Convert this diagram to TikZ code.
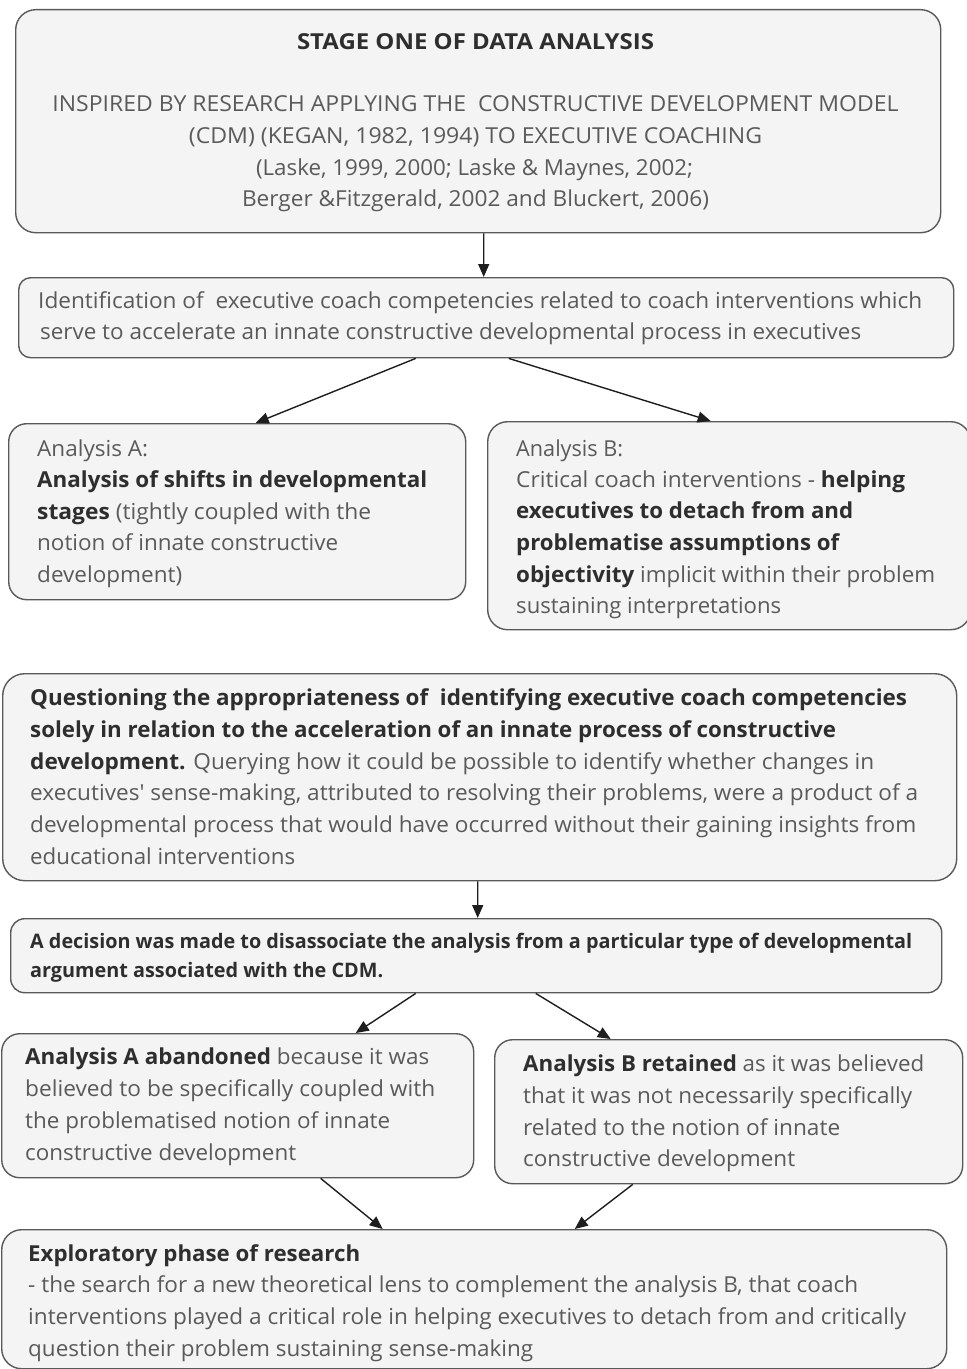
\documentclass[tikz,border=0pt]{standalone}
\usepackage{fontspec}
\setmainfont{Open Sans}
\newfontfamily\plainquote{Open Sans}[Ligatures=TeXOff]
\usepackage{graphicx}
\usetikzlibrary{arrows.meta}

\definecolor{boxline}{HTML}{595959}
\definecolor{boxfill}{HTML}{F4F4F4}
\definecolor{txtgray}{HTML}{5A5A5A}
\definecolor{txtdark}{HTML}{2E2E2E}
\definecolor{arrowcol}{HTML}{1E1E1E}

% set one line of text to a given width (in bp) by scaling it horizontally
\newlength\linelen
\newcommand\fitline[2]{\settowidth\linelen{#2}\pgfmathsetmacro\linefactor{#1*1.00375/\linelen}\scalebox{\linefactor}[1]{#2}}
\newcommand\bdtext[1]{{\bfseries\color{txtdark}#1}}
\newcommand\straightquote{{\plainquote '}}

\tikzset{
  box/.style={draw=boxline, line width=1.4bp, fill=boxfill, rounded corners=#1,
              anchor=north west, inner sep=0pt},
  box/.default=18bp,
  txt/.style={anchor=base west, inner sep=0pt, text=txtgray,
              font=\fontsize{22bp}{26bp}\selectfont},
  txtc/.style={txt, anchor=base},
  small/.style={font=\fontsize{20bp}{24bp}\selectfont},
  arr/.style={draw=arrowcol, line width=1.4bp, -{Triangle[length=13bp,width=11bp]}},
}

\begin{document}
\begin{tikzpicture}[x=1bp, y=-1bp]
\useasboundingbox (0,0) rectangle (966,1369);

% ---------- boxes ----------
\node[box=20bp, minimum width=925bp, minimum height=223bp] (stage)   at (15,9)    {};
\node[box=12bp, minimum width=935bp, minimum height=80bp]  (ident)   at (18,277)  {};
\node[box=18bp, minimum width=457bp, minimum height=176bp] (anA)     at (8,423)   {};
\node[box=20bp, minimum width=483bp, minimum height=208bp] (anB)     at (487,421) {};
\node[box=22bp, minimum width=954bp, minimum height=207bp] (quest)   at (2,673)   {};
\node[box=14bp, minimum width=931bp, minimum height=74bp]  (decide)  at (10,918)  {};
\node[box=18bp, minimum width=472bp, minimum height=144bp] (abandon) at (1,1033)  {};
\node[box=18bp, minimum width=468bp, minimum height=144bp] (retain)  at (494,1039){};
\node[box=20bp, minimum width=945bp, minimum height=139bp] (explore) at (1,1229)  {};

% ---------- stage one ----------
\node[txtc] (st1) at (475.5,50)  {\fitline{357}{\bdtext{STAGE ONE OF DATA ANALYSIS}}};
\node[txtc] (st2) at (475.5,112) {\fitline{846}{INSPIRED BY RESEARCH APPLYING THE\ \ CONSTRUCTIVE DEVELOPMENT MODEL}};
\node[txtc] (st3) at (475.5,144) {\fitline{573}{(CDM) (KEGAN, 1982, 1994) TO EXECUTIVE COACHING}};
\node[txtc] (st4) at (474.5,176) {\fitline{437}{(Laske, 1999, 2000; Laske \& Maynes, 2002;}};
\node[txtc] (st5) at (475.5,207) {\fitline{467}{Berger \&Fitzgerald, 2002 and Bluckert, 2006)}};

% ---------- identification ----------
\node[txt] (id1) at (38,308) {\fitline{884}{Identification of\ \ executive coach competencies related to coach interventions which}};
\node[txt] (id2) at (40,339) {\fitline{821}{serve to accelerate an innate constructive developmental process in executives}};

% ---------- analysis A ----------
\node[txt] (a1) at (37,456) {\fitline{111}{Analysis A:}};
\node[txt] (a2) at (37,487) {\fitline{390}{\bdtext{Analysis of shifts in developmental}}};
\node[txt] (a3) at (37,519) {\fitline{334}{\bdtext{stages} (tightly coupled with the}};
\node[txt] (a4) at (37,550) {\fitline{301}{notion of innate constructive}};
\node[txt] (a5) at (37,582) {\fitline{145}{development)}};

% ---------- analysis B ----------
\node[txt] (b1) at (516,456) {\fitline{107}{Analysis B:}};
\node[txt] (b2) at (516,487) {\fitline{389}{Critical coach interventions - \bdtext{helping}}};
\node[txt] (b3) at (516,518) {\fitline{337}{\bdtext{executives to detach from and}}};
\node[txt] (b4) at (516,550) {\fitline{323}{\bdtext{problematise assumptions of}}};
\node[txt] (b5) at (516,582) {\fitline{419}{\bdtext{objectivity} implicit within their problem}};
\node[txt] (b6) at (516,613) {\fitline{265}{sustaining interpretations}};

% ---------- questioning ----------
\node[txt] (q1) at (30,705) {\fitline{877}{\bdtext{Questioning the appropriateness of\ \ identifying executive coach competencies}}};
\node[txt] (q2) at (30,737) {\fitline{806}{\bdtext{solely in relation to the acceleration of an innate process of constructive}}};
\node[txt] (q3) at (30,769) {\fitline{844}{\bdtext{development.} Querying how it could be possible to identify whether changes in}};
\node[txt] (q4) at (30,800) {\fitline{888}{executives\straightquote{} sense-making, attributed to resolving their problems, were a product of a}};
\node[txt] (q5) at (30,832) {\fitline{886}{developmental process that would have occurred without their gaining insights from}};
\node[txt] (q6) at (30,864) {\fitline{265}{educational interventions}};

% ---------- decision ----------
\node[txt, small] (d1) at (30,948) {\fitline{882}{\bdtext{A decision was made to disassociate the analysis from a particular type of developmental}}};
\node[txt, small] (d2) at (30,977) {\fitline{353}{\bdtext{argument associated with the CDM.}}};

% ---------- analysis A abandoned ----------
\node[txt] (ab1) at (25,1064) {\fitline{404}{\bdtext{Analysis A abandoned} because it was}};
\node[txt] (ab2) at (25,1096) {\fitline{410}{believed to be specifically coupled with}};
\node[txt] (ab3) at (25,1128) {\fitline{365}{the problematised notion of innate}};
\node[txt] (ab4) at (25,1160) {\fitline{271}{constructive development}};

% ---------- analysis B retained ----------
\node[txt] (re1) at (523,1071) {\fitline{401}{\bdtext{Analysis B retained} as it was believed}};
\node[txt] (re2) at (523,1103) {\fitline{389}{that it was not necessarily specifically}};
\node[txt] (re3) at (523,1135) {\fitline{317}{related to the notion of innate}};
\node[txt] (re4) at (523,1166) {\fitline{272}{constructive development}};

% ---------- exploratory phase ----------
\node[txt] (ex1) at (28,1261) {\fitline{332}{\bdtext{Exploratory phase of research}}};
\node[txt] (ex2) at (28,1292) {\fitline{830}{- the search for a new theoretical lens to complement the analysis B, that coach}};
\node[txt] (ex3) at (28,1324) {\fitline{878}{interventions played a critical role in helping executives to detach from and critically}};
\node[txt] (ex4) at (28,1356) {\fitline{505}{question their problem sustaining sense-making}};

% ---------- connectors ----------
\draw[arr] ([xshift=5.5bp]stage.south)   -- ([xshift=-2.5bp]ident.north);
\draw[arr] ([xshift=-70.5bp]ident.south) -- ([xshift=18.5bp]anA.north);
\draw[arr] ([xshift=22.5bp]ident.south)  -- ([xshift=-18.5bp]anB.north);
\draw[arr] ([xshift=-2bp]quest.south)    -- ([xshift=1.5bp]decide.north);
\draw[arr] ([xshift=-60.5bp]decide.south) -- ([xshift=118bp]abandon.north);
\draw[arr] ([xshift=59.5bp]decide.south)  -- ([xshift=-118bp]retain.north);
\draw[arr] ([xshift=83bp]abandon.south)   -- ([xshift=-91.5bp]explore.north);
\draw[arr] ([xshift=-96bp]retain.south)   -- ([xshift=100.5bp]explore.north);
\end{tikzpicture}
\end{document}
